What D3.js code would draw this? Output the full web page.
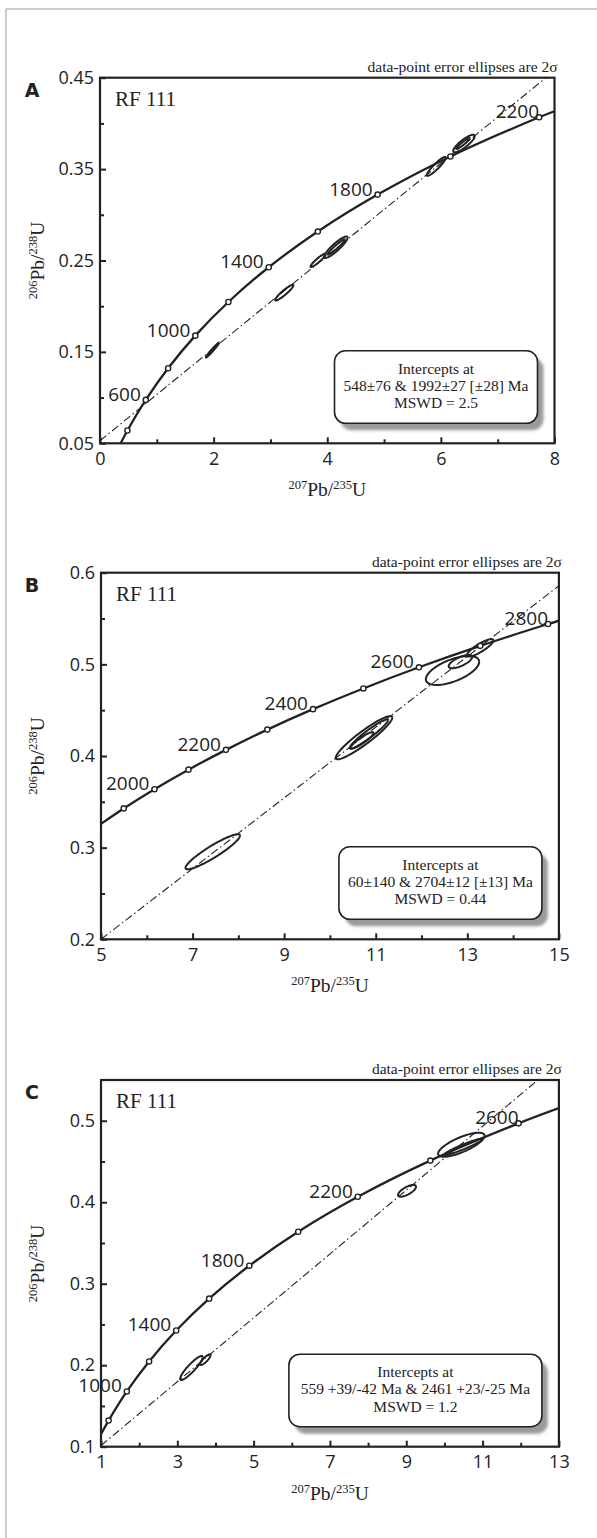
<!DOCTYPE html>
<html>
<head>
<meta charset="utf-8">
<script src="https://cdn.jsdelivr.net/npm/d3@7"></script>
<style>
  body { margin: 0; background: #fff; }
  svg { display: block; }
</style>
</head>
<body>
<svg id="chart" width="597" height="1538"></svg>
<script>
// concordia ticks (Ma) and their ratios
const concA_age = [400, 600, 800, 1000, 1200, 1400, 1600, 1800, 2000, 2200]
const concA_x = [0.483, 0.806, 1.199, 1.677, 2.260, 2.970, 3.834, 4.887, 6.168, 7.729]
const concA_y = [0.0640, 0.0975, 0.1321, 0.1678, 0.2046, 0.2426, 0.2817, 0.3221, 0.3638, 0.4067]
const concA_ends = [[0.364, 0.05], [8, 0.4133]]
const concA_labels = [600, 1000, 1400, 1800, 2200]

const concB_age = [1900, 2000, 2100, 2200, 2300, 2400, 2500, 2600, 2700, 2800]
const concB_x = [5.496, 6.168, 6.911, 7.729, 8.633, 9.630, 10.730, 11.944, 13.283, 14.763]
const concB_y = [0.3428, 0.3638, 0.3851, 0.4067, 0.4288, 0.4511, 0.4737, 0.4968, 0.5202, 0.5440]
const concB_ends = [[5, 0.326], [15, 0.5476]]
const concB_labels = [2000, 2200, 2400, 2600, 2800]

const concC_age = [800, 1000, 1200, 1400, 1600, 1800, 2000, 2200, 2400, 2600]
const concC_x = [1.199, 1.677, 2.260, 2.970, 3.834, 4.887, 6.168, 7.729, 9.630, 11.944]
const concC_y = [0.1321, 0.1678, 0.2046, 0.2426, 0.2817, 0.3221, 0.3638, 0.4067, 0.4511, 0.4968]
const concC_ends = [[1, 0.1154], [13, 0.5155]]
const concC_labels = [1000, 1400, 1800, 2200, 2600]

// discordia (end points of the regression line)
const discA = [[0, 0.0528], [7.85, 0.45]]
const discB = [[5, 0.2], [15, 0.5857]]
const discC = [[1, 0.1014], [12.45, 0.55]]

// error ellipses: centre, 2 sigma half widths, correlation
const ellA_x = [1.98, 3.245, 3.84, 4.151, 4.16, 5.92, 6.407, 6.39]
const ellA_y = [0.152, 0.2149, 0.2502, 0.2645, 0.2648, 0.353, 0.378, 0.378]
const ellA_sx = [0.117, 0.161, 0.134, 0.208, 0.15, 0.167, 0.19, 0.12]
const ellA_sy = [0.0082, 0.0086, 0.0073, 0.0118, 0.0084, 0.0104, 0.0096, 0.006]
const ellA_rho = [0.98, 0.93, 0.93, 0.9, 0.96, 0.92, 0.85, 0.95]

const ellB_x = [7.44, 10.744, 10.85, 10.7, 12.677, 12.85, 13.28]
const ellB_y = [0.2955, 0.420, 0.424, 0.417, 0.4933, 0.503, 0.518]
const ellB_sx = [0.595, 0.618, 0.42, 0.25, 0.582, 0.257, 0.29]
const ellB_sy = [0.0191, 0.0236, 0.016, 0.009, 0.0158, 0.0073, 0.0095]
const ellB_rho = [0.92, 0.93, 0.95, 0.9, 0.6, 0.7, 0.85]

const ellC_x = [3.37, 3.734, 9.02, 10.443, 10.5]
const ellC_y = [0.1966, 0.2068, 0.414, 0.4706, 0.468]
const ellC_sx = [0.295, 0.14, 0.235, 0.609, 0.5]
const ellC_sy = [0.0147, 0.0066, 0.0072, 0.0147, 0.01]
const ellC_rho = [0.9, 0.85, 0.7, 0.75, 0.95]

// axis ticks
const xMajorA = [0, 2, 4, 6, 8], xMinorA = [1, 3, 5, 7]
const yMajorA = [0.05, 0.15, 0.25, 0.35, 0.45], yMinorA = [0.10, 0.20, 0.30, 0.40]
const xMajorB = [5, 7, 9, 11, 13, 15], xMinorB = [6, 8, 10, 12, 14]
const yMajorB = [0.2, 0.3, 0.4, 0.5, 0.6], yMinorB = [0.25, 0.35, 0.45, 0.55]
const xMajorC = [1, 3, 5, 7, 9, 11, 13], xMinorC = [2, 4, 6, 8, 10, 12]
const yMajorC = [0.1, 0.2, 0.3, 0.4, 0.5], yMinorC = [0.15, 0.25, 0.35, 0.45]

// intercept boxes
const interceptA = ["Intercepts at", "548±76 & 1992±27 [±28] Ma", "MSWD = 2.5"]
const interceptB = ["Intercepts at", "60±140 & 2704±12 [±13] Ma", "MSWD = 0.44"]
const interceptC = ["Intercepts at", "559 +39/-42 Ma & 2461 +23/-25 Ma", "MSWD = 1.2"]

const sans = "'Open Sans', 'Noto Sans', sans-serif"
const serif = "'Liberation Serif', 'DejaVu Serif', serif"
const ink = "#222"

const svg = d3.select("#chart")

//page frame, grey line on top and left
svg.append("line").attr("x1", 6).attr("x2", 597).attr("y1", 9).attr("y2", 9)
    .attr("stroke", "#bbb").attr("stroke-width", 1.5)
svg.append("line").attr("x1", 6).attr("x2", 6).attr("y1", 9).attr("y2", 1538)
    .attr("stroke", "#bbb").attr("stroke-width", 1.5)

const defs = svg.append("defs")
defs.append("filter").attr("id", "blur")
    .append("feGaussianBlur").attr("stdDeviation", 1.5)

function drawPanel(p, idx) {
    const x = d3.scaleLinear().domain(p.xDomain).range([p.left, p.right])
    const y = d3.scaleLinear().domain(p.yDomain).range([p.bottom, p.top])
    const g = svg.append("g")

    defs.append("clipPath").attr("id", "clip" + idx)
        .append("rect")
        .attr("x", p.left).attr("y", p.top)
        .attr("width", p.right - p.left).attr("height", p.bottom - p.top)

    //header texts
    g.append("text").attr("x", p.right + 3).attr("y", p.top - 6)
        .attr("text-anchor", "end")
        .style("font-family", serif).style("font-size", "15.5px").attr("fill", ink)
        .text("data-point error ellipses are 2σ")
    g.append("text").attr("x", 32).attr("y", p.top + 19)
        .attr("text-anchor", "middle")
        .style("font-family", "'DejaVu Sans', sans-serif").style("font-weight", 700)
        .style("font-size", "19px")
        .attr("fill", ink).text(p.letter)
    g.append("text").attr("x", p.left + 15).attr("y", p.top + 28)
        .style("font-family", serif).style("font-size", "21px").attr("fill", ink)
        .text("RF 111")

    //axes with inward ticks
    const xAxis = g.append("g").attr("transform", "translate(0," + p.bottom + ")")
    xAxis.call(d3.axisBottom(x).tickValues(p.xMajor).tickSizeInner(-6).tickSizeOuter(0)
        .tickPadding(9).tickFormat(d3.format("d")))
    xAxis.append("g").call(d3.axisBottom(x).tickValues(p.xMinor).tickSizeInner(-4)
        .tickSizeOuter(0).tickFormat(""))
    const yAxis = g.append("g").attr("transform", "translate(" + p.left + ",0)")
    yAxis.call(d3.axisLeft(y).tickValues(p.yMajor).tickSizeInner(-6).tickSizeOuter(0)
        .tickPadding(6).tickFormat(d3.format(p.yFormat)))
    yAxis.append("g").call(d3.axisLeft(y).tickValues(p.yMinor).tickSizeInner(-4)
        .tickSizeOuter(0).tickFormat(""))
    g.selectAll(".domain").remove()
    g.selectAll(".tick line").attr("stroke", ink).attr("stroke-width", 2)
    g.selectAll(".tick text").attr("fill", ink)
        .style("font-family", sans).style("font-size", "18px")

    //axis titles with superscripts
    const xt = g.append("text").attr("x", (p.left + p.right) / 2).attr("y", p.bottom + 53)
        .attr("text-anchor", "middle").style("font-family", serif).attr("fill", ink)
    addRatio(xt, "207", "Pb/", "235", "U")
    const yt = g.append("text")
        .attr("transform", "translate(44," + (p.top + p.bottom) / 2 + ") rotate(-90)")
        .attr("text-anchor", "middle").style("font-family", serif).attr("fill", ink)
    addRatio(yt, "206", "Pb/", "238", "U")

    const plot = g.append("g").attr("clip-path", "url(#clip" + idx + ")")

    //discordia
    plot.append("line")
        .attr("x1", x(p.disc[0][0])).attr("y1", y(p.disc[0][1]))
        .attr("x2", x(p.disc[1][0])).attr("y2", y(p.disc[1][1]))
        .attr("stroke", ink).attr("stroke-width", 1.1)
        .attr("stroke-dasharray", "8,3,1.5,3")

    //concordia curve
    const pts = [p.ends[0]].concat(p.concX.map((v, i) => [v, p.concY[i]]), [p.ends[1]])
    const line = d3.line().x(d => x(d[0])).y(d => y(d[1])).curve(d3.curveCatmullRom.alpha(0.5))
    plot.append("path").attr("d", line(pts))
        .attr("fill", "none").attr("stroke", ink).attr("stroke-width", 2.3)

    //error ellipses
    const angles = d3.range(0, 2 * Math.PI + 0.01, Math.PI / 40)
    p.ell.x.forEach((cx, i) => {
        const sx = p.ell.sx[i], sy = p.ell.sy[i], r = p.ell.rho[i]
        const ring = angles.map(a => [
            cx + sx * Math.cos(a),
            p.ell.y[i] + sy * (r * Math.cos(a) + Math.sqrt(1 - r * r) * Math.sin(a))
        ])
        plot.append("path").attr("d", d3.line().x(d => x(d[0])).y(d => y(d[1]))(ring))
            .attr("fill", "none").attr("stroke", ink).attr("stroke-width", 2)
    })

    //tick circles on the concordia
    plot.selectAll("circle.age").data(p.concX).enter().append("circle")
        .attr("cx", d => x(d)).attr("cy", (d, i) => y(p.concY[i]))
        .attr("r", 2.6).attr("fill", "#fff").attr("stroke", ink).attr("stroke-width", 1.4)

    //age labels
    p.labels.forEach((age, k) => {
        const i = p.ages.indexOf(age)
        const last = k === p.labels.length - 1
        g.append("text")
            .attr("x", x(p.concX[i]) + (last ? 0 : -5)).attr("y", y(p.concY[i]) + 1)
            .attr("text-anchor", "end")
            .style("font-family", sans).style("font-size", "19px").attr("fill", ink)
            .text(age)
    })

    //intercepts box
    const bx = p.right - 17 - p.boxW, by = p.bottom - 20 - 72.5
    g.append("rect").attr("x", bx + 6).attr("y", by + 7)
        .attr("width", p.boxW).attr("height", 72.5).attr("rx", 11)
        .attr("fill", "#9a9a9a").attr("filter", "url(#blur)")
    g.append("rect").attr("x", bx).attr("y", by)
        .attr("width", p.boxW).attr("height", 72.5).attr("rx", 11)
        .attr("fill", "#fff").attr("stroke", ink).attr("stroke-width", 1.6)
    p.box.forEach((t, i) => {
        g.append("text").attr("x", bx + p.boxW / 2).attr("y", by + 23 + i * 17.2)
            .attr("text-anchor", "middle")
            .style("font-family", serif).style("font-size", "15.5px").attr("fill", ink)
            .text(t)
    })

    //plot frame
    g.append("rect").attr("x", p.left).attr("y", p.top)
        .attr("width", p.right - p.left).attr("height", p.bottom - p.top)
        .attr("fill", "none").attr("stroke", ink).attr("stroke-width", 2.2)
}

function addRatio(t, a, b, c, d) {
    t.append("tspan").text(a).style("font-size", "12.5px").attr("dy", -7)
    t.append("tspan").text(b).style("font-size", "19.5px").attr("dy", 7)
    t.append("tspan").text(c).style("font-size", "12.5px").attr("dy", -7)
    t.append("tspan").text(d).style("font-size", "19.5px").attr("dy", 7)
}

drawPanel({
    letter: "A", left: 100, right: 554.5, top: 77.7, bottom: 443.3,
    xDomain: [0, 8], yDomain: [0.05, 0.45], yFormat: ".2f",
    xMajor: xMajorA, xMinor: xMinorA, yMajor: yMajorA, yMinor: yMinorA,
    ages: concA_age, concX: concA_x, concY: concA_y, ends: concA_ends, labels: concA_labels,
    disc: discA,
    ell: { x: ellA_x, y: ellA_y, sx: ellA_sx, sy: ellA_sy, rho: ellA_rho },
    box: interceptA, boxW: 203
}, 0)

drawPanel({
    letter: "B", left: 101, right: 558.9, top: 572.7, bottom: 939.3,
    xDomain: [5, 15], yDomain: [0.2, 0.6], yFormat: ".1f",
    xMajor: xMajorB, xMinor: xMinorB, yMajor: yMajorB, yMinor: yMinorB,
    ages: concB_age, concX: concB_x, concY: concB_y, ends: concB_ends, labels: concB_labels,
    disc: discB,
    ell: { x: ellB_x, y: ellB_y, sx: ellB_sx, sy: ellB_sy, rho: ellB_rho },
    box: interceptB, boxW: 203
}, 1)

drawPanel({
    letter: "C", left: 101, right: 558.9, top: 1080, bottom: 1446.7,
    xDomain: [1, 13], yDomain: [0.1, 0.55], yFormat: ".1f",
    xMajor: xMajorC, xMinor: xMinorC, yMajor: yMajorC, yMinor: yMinorC,
    ages: concC_age, concX: concC_x, concY: concC_y, ends: concC_ends, labels: concC_labels,
    disc: discC,
    ell: { x: ellC_x, y: ellC_y, sx: ellC_sx, sy: ellC_sy, rho: ellC_rho },
    box: interceptC, boxW: 253
}, 2)
</script>
</body>
</html>
